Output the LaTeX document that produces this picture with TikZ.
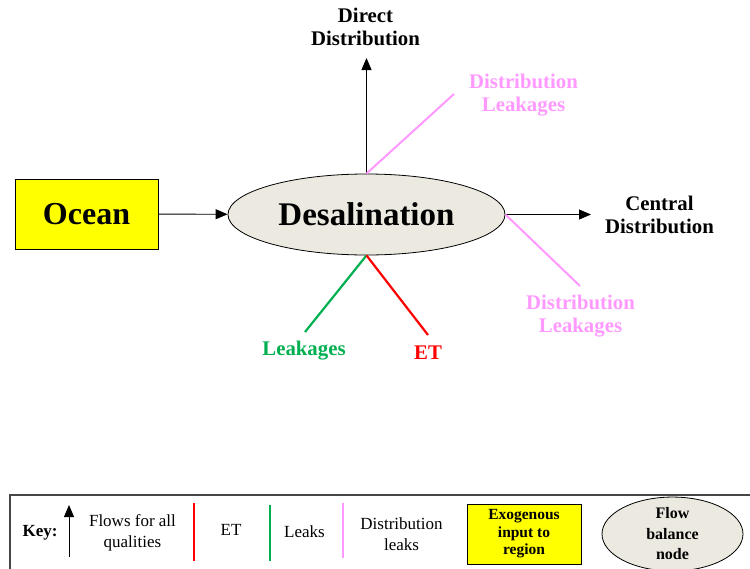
\documentclass[tikz,border=0pt]{standalone}
\usepackage{fontspec}
\setmainfont{Liberation Serif}
\usepackage{xcolor}
\usetikzlibrary{shapes.geometric, arrows.meta, positioning}

\definecolor{exoyellow}{RGB}{255,255,0}
\definecolor{nodegrey}{RGB}{236,234,224}
\definecolor{leakgreen}{RGB}{0,176,80}
\definecolor{etred}{RGB}{255,0,0}
\definecolor{distpink}{RGB}{255,153,255}
\definecolor{keyframe}{RGB}{70,70,70}

\begin{document}
\begin{tikzpicture}[
    x=1pt, y=-1pt,
    flow/.style={draw=black, line width=0.9pt, -{Triangle[length=12pt,width=10pt]}},
    exoinput/.style={draw, rectangle, fill=exoyellow, line width=0.8pt, align=center, font=\bfseries},
    balancenode/.style={draw, ellipse, fill=nodegrey, line width=0.8pt, align=center, inner sep=0pt, font=\bfseries},
    outtext/.style={align=center, font=\fontsize{20.8}{23}\selectfont\bfseries},
    keytext/.style={align=center, font=\fontsize{17}{20.5}\selectfont},
    etline/.style={draw=etred, line width=2.2pt},
    leakline/.style={draw=leakgreen, line width=2.2pt},
    distline/.style={draw=distpink, line width=2pt}
]
\clip (0,0) rectangle (750,568);

% main flow
\node[exoinput, minimum width=143pt, minimum height=70pt, font=\fontsize{32}{36}\selectfont\bfseries] (ocean) at (86.5,214) {Ocean};
\node[balancenode, minimum width=277pt, minimum height=81pt, font=\fontsize{33}{36}\selectfont\bfseries] (desal) at (366.5,214.5) {Desalination};
\draw[flow] (ocean) -- (desal);

% outflows
\coordinate (upTip) at (366.5,58);
\coordinate (rightTip) at (591,214.5);
\node[outtext] (direct) at (365.5,27) {Direct\\Distribution};
\node[outtext] (central) at (659.5,215) {Central\\Distribution};
\draw[flow] (desal.north) -- (upTip);
\draw[flow] (desal.east) -- (rightTip);

% losses
\coordinate (distUpEnd) at (454,94);
\coordinate (distDownEnd) at (580,286);
\coordinate (leakEnd) at (305,332);
\coordinate (etEnd) at (428,335);
\draw[distline] (desal.north) -- (distUpEnd);
\draw[distline] (desal.east) -- (distDownEnd);
\draw[leakline] (desal.south) -- (leakEnd);
\draw[etline] (desal.south) -- (etEnd);
\node[outtext, text=distpink] (distUp) at (523.5,95) {Distribution\\Leakages};
\node[outtext, text=distpink] (distDown) at (580.5,316) {Distribution\\Leakages};
\node[outtext, text=leakgreen] (leak) at (304,351) {Leakages};
\node[outtext, text=etred] (et) at (428,353) {ET};

% key
\draw[keyframe, line width=1.8pt] (10,495) rectangle (770,590);
\node[keytext, font=\fontsize{17}{20.5}\selectfont\bfseries] (keyhead) at (40,533) {Key:};
\coordinate (keyArrowFoot) at (69,557);
\coordinate (keyArrowTip) at (69,505);
\draw[flow, line width=0.8pt] (keyArrowFoot) -- (keyArrowTip);
\node[keytext] (keyflows) at (132.5,533) {Flows for all\\qualities};
\coordinate (keyEtTop) at (194,503);
\coordinate (keyEtFoot) at (194,561);
\draw[etline, line width=2.6pt] (keyEtTop) -- (keyEtFoot);
\node[keytext] (keyet) at (231,530) {ET};
\coordinate (keyLeakTop) at (270,505);
\coordinate (keyLeakFoot) at (270,561);
\draw[leakline, line width=2.6pt] (keyLeakTop) -- (keyLeakFoot);
\node[keytext] (keyleak) at (304.5,532) {Leaks};
\coordinate (keyDistTop) at (343,503);
\coordinate (keyDistFoot) at (343,558);
\draw[distline, line width=2.6pt] (keyDistTop) -- (keyDistFoot);
\node[keytext] (keydist) at (401.5,534) {Distribution\\leaks};
\node[exoinput, minimum width=114pt, minimum height=60pt, inner sep=0pt, font=\fontsize{15.5}{17.5}\selectfont\bfseries] (keyexo) at (524,534) {Exogenous\\input to\\region};
\node[balancenode, minimum width=141pt, minimum height=61pt, font=\fontsize{16}{20.5}\selectfont\bfseries] (keybal) at (672.5,534) {Flow\\balance\\node};

\end{tikzpicture}
\end{document}
